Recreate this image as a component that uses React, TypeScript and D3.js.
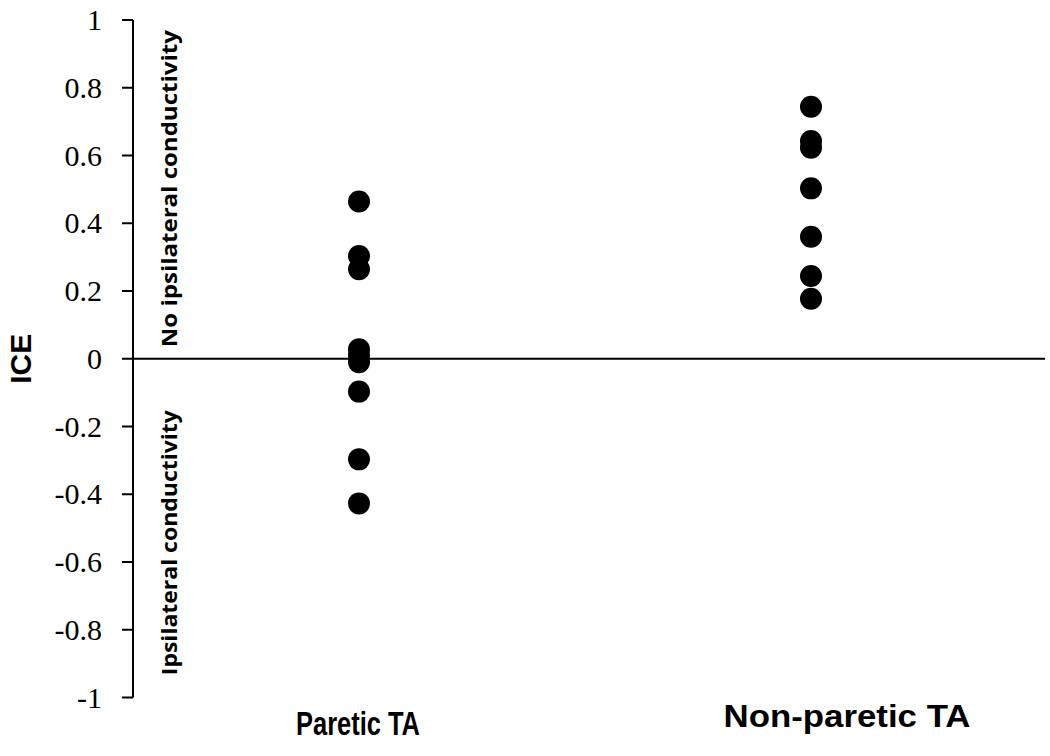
import React from "react";
import * as d3 from "d3";

const categories = ["Paretic TA", "Non-paretic TA"];
const pareticValues = [0.464, 0.303, 0.264, 0.028, 0.01, -0.01, -0.097, -0.297, -0.427];
const nonPareticValues = [0.744, 0.643, 0.623, 0.503, 0.36, 0.244, 0.177];
const yTicks = [1, 0.8, 0.6, 0.4, 0.2, 0, -0.2, -0.4, -0.6, -0.8, -1];
const yLabel = "ICE";
const annotationUpper = "No ipsilateral conductivity";
const annotationLower = "Ipsilateral conductivity";

const W = 1050;
const H = 756;
const axisX = 133;

export default function App() {
  const y = d3.scaleLinear().domain([-1, 1]).range([697.5, 20]);
  const x = d3.scalePoint<string>().domain(categories).range([axisX, 1037]).padding(0.5);
  const series = [pareticValues, nonPareticValues];
  const labelDx = [-1, 36];
  const labelBase = [735, 727];
  const labelLen = [124, 247];
  const fmt = (v: number) => String(+v.toFixed(1));

  return (
    <svg width={W} height={H} style={{ position: "absolute", left: 0, top: 0, background: "#fff" }}>
      <rect x={0} y={0} width={W} height={H} fill="#fff" />
      <line x1={axisX} x2={axisX} y1={y(1)} y2={y(-1)} stroke="#000" strokeWidth={2} />
      {yTicks.map((t) => (
        <g key={t}>
          <line x1={axisX - 11} x2={axisX} y1={y(t)} y2={y(t)} stroke="#000" strokeWidth={2} />
          <text
            x={102}
            y={y(t)}
            dy="0.34em"
            textAnchor="end"
            fontFamily="Liberation Serif, DejaVu Serif, serif"
            fontSize={30}
            fill="#000"
          >
            {fmt(t)}
          </text>
        </g>
      ))}
      <line x1={axisX} x2={1045} y1={y(0)} y2={y(0)} stroke="#000" strokeWidth={2} />
      <text
        transform={`translate(31, ${y(0)}) rotate(-90)`}
        textAnchor="middle"
        fontFamily="Liberation Sans, Arial, sans-serif"
        fontWeight="bold"
        fontSize={30}
        fill="#000"
      >
        {yLabel}
      </text>
      <text
        transform={`translate(177, ${y(0.502)}) rotate(-90)`}
        textAnchor="middle"
        fontFamily="Liberation Sans Narrow, Open Sans, sans-serif"
        fontWeight="bold"
        fontSize={22}
        textLength={317}
        lengthAdjust="spacingAndGlyphs"
        fill="#000"
      >
        {annotationUpper}
      </text>
      <text
        transform={`translate(177, ${y(-0.543)}) rotate(-90)`}
        textAnchor="middle"
        fontFamily="Liberation Sans Narrow, Open Sans, sans-serif"
        fontWeight="bold"
        fontSize={22}
        textLength={265}
        lengthAdjust="spacingAndGlyphs"
        fill="#000"
      >
        {annotationLower}
      </text>
      {categories.map((c, i) => (
        <text
          key={c}
          x={(x(c) ?? 0) + labelDx[i]}
          y={labelBase[i]}
          textAnchor="middle"
          fontFamily="Liberation Sans, Arial, sans-serif"
          fontWeight="bold"
          fontSize={i === 0 ? 34 : 31}
          textLength={labelLen[i]}
          lengthAdjust="spacingAndGlyphs"
          fill="#000"
        >
          {c}
        </text>
      ))}
      {series.map((vals, i) =>
        vals.map((v, j) => (
          <circle key={`${i}-${j}`} cx={x(categories[i]) ?? 0} cy={y(v)} r={11} fill="#000" />
        ))
      )}
    </svg>
  );
}
